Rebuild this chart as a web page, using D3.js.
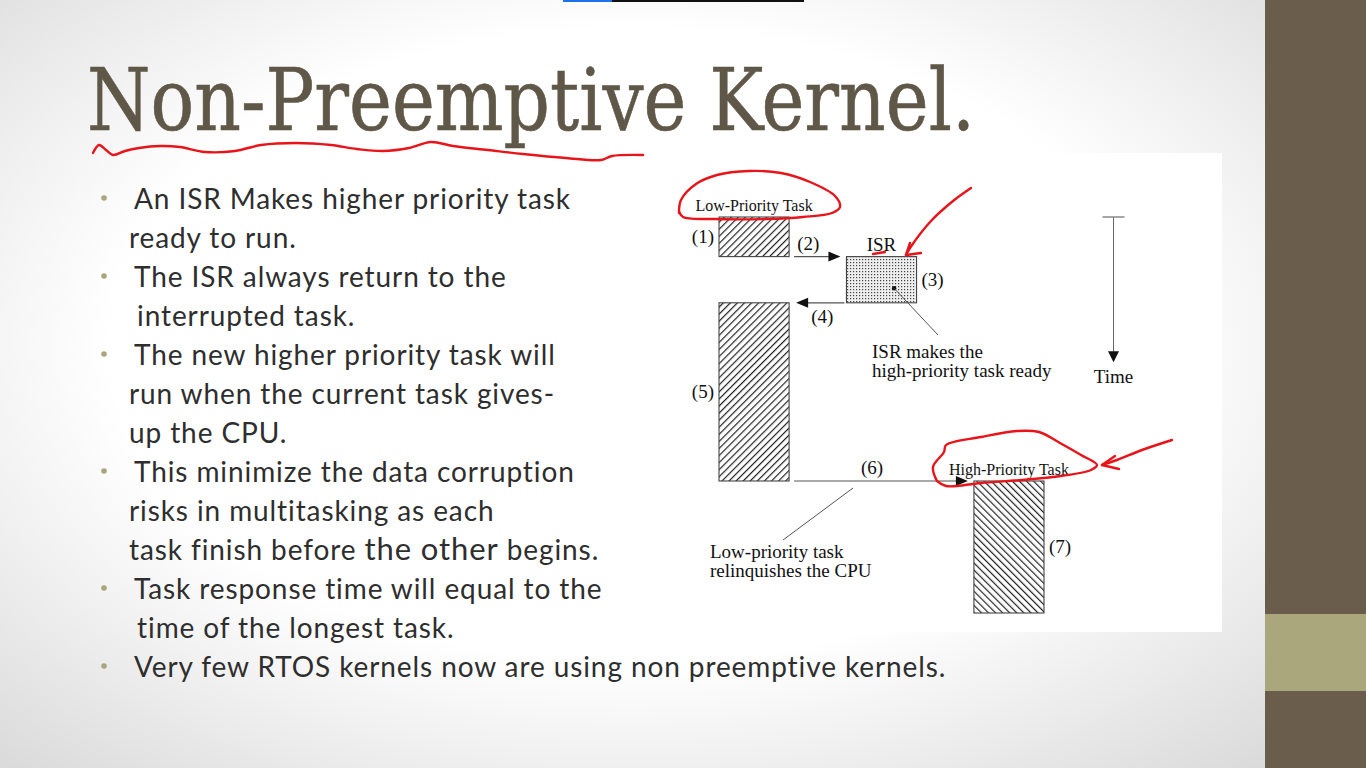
<!DOCTYPE html>
<html>
<head>
<meta charset="utf-8">
<script src="https://cdn.jsdelivr.net/npm/d3@7"></script>
<style>
  html, body { margin: 0; padding: 0; overflow: hidden; background: #fff; }
</style>
</head>
<body>
<svg id="slide" width="1366" height="768"></svg>
<script>
// timeline data (time in arbitrary ticks)
const lanes = ["Low-Priority Task", "ISR", "High-Priority Task"];
const segLane = ["Low-Priority Task", "ISR", "Low-Priority Task", "High-Priority Task"];
const segStart = [0, 3, 6.5, 20];
const segEnd = [3, 6.5, 20, 30];
const segTags = ["(1)", "(3)", "(5)", "(7)"];
const switchTags = ["(2)", "(4)", "(6)"];
const timeDomain = [0, 30];

const titleText = "Non-Preemptive Kernel.";
const bullets = [
    ["An ISR Makes higher priority task", "ready to run."],
    ["The ISR always return to the", " interrupted task."],
    ["The new higher priority task will", "run when the current task gives-", "up the CPU."],
    ["This minimize the data corruption", "risks in multitasking as each", "task finish before |the other| begins."],
    ["Task response time will equal to the", " time of the longest task."],
    ["Very few RTOS kernels now are using non preemptive kernels."]
];
const isrNote = ["ISR makes the", "high-priority task ready"];
const cpuNote = ["Low-priority task", "relinquishes the CPU"];
const timeLabel = "Time";

const svg = d3.select("#slide");
const defs = svg.append("defs");

// ---------- slide background ----------
const bg = defs.append("radialGradient").attr("id", "vignette")
    .attr("cx", "0.5").attr("cy", "0.45").attr("r", "0.75");
bg.append("stop").attr("offset", "0.55").attr("stop-color", "#ffffff");
bg.append("stop").attr("offset", "1").attr("stop-color", "#d9d9d9");

svg.append("rect").attr("x", 0).attr("y", 0).attr("width", 1265).attr("height", 768)
    .attr("fill", "url(#vignette)");

// right side bar
svg.append("rect").attr("x", 1265).attr("y", 0).attr("width", 101).attr("height", 768).attr("fill", "#6a5d4b");
svg.append("rect").attr("x", 1265).attr("y", 614).attr("width", 101).attr("height", 77).attr("fill", "#aba77c");

// video progress bar on top
svg.append("rect").attr("x", 563).attr("y", 0).attr("width", 241).attr("height", 2).attr("fill", "#111");
svg.append("rect").attr("x", 563).attr("y", 0).attr("width", 49).attr("height", 2).attr("fill", "#1a73e8");

// ---------- title ----------
svg.append("text")
    .attr("x", 87).attr("y", 130)
    .attr("textLength", 888).attr("lengthAdjust", "spacingAndGlyphs")
    .style("font-family", "'DejaVu Serif', 'Liberation Serif', serif")
    .style("font-stretch", "condensed")
    .style("font-size", "86px")
    .attr("fill", "#5f5747")
    .attr("stroke", "#5f5747")
    .attr("stroke-width", 0.6)
    .text(titleText);

// ---------- bullets ----------
const textG = svg.append("g")
    .style("font-family", "Lato, 'Open Sans', sans-serif")
    .style("font-size", "28px")
    .style("letter-spacing", "0.9px")
    .style("font-variant-ligatures", "none")
    .attr("fill", "#2e2e2e");

let lineNo = 0;
bullets.forEach(lines => {
    lines.forEach((ln, j) => {
        const base = 209 + lineNo * 39;
        if (j === 0) {
            textG.append("circle").attr("cx", 104).attr("cy", base - 11).attr("r", 2.8).attr("fill", "#a9a67b");
        }
        const t = textG.append("text")
            .attr("x", j === 0 ? 134 : 129)
            .attr("y", base)
            .attr("xml:space", "preserve")
            .style("white-space", "pre");
        ln.split("|").forEach((part, k) => {
            t.append("tspan").style("font-size", k === 1 ? "31px" : null).text(part);
        });
        lineNo++;
    });
});

// ---------- diagram ----------
svg.append("rect").attr("x", 655).attr("y", 153).attr("width", 567).attr("height", 479).attr("fill", "#fff");

const y = d3.scaleLinear().domain(timeDomain).range([217, 613]);
const x = d3.scaleBand().domain(lanes).range([719, 1044]).paddingInner(0.45);
const bw = x.bandwidth();

// fill patterns
const hatch = (id, angle) => {
    const p = defs.append("pattern").attr("id", id)
        .attr("patternUnits", "userSpaceOnUse").attr("width", 5).attr("height", 5)
        .attr("patternTransform", `rotate(${angle})`);
    p.append("rect").attr("width", 5).attr("height", 5).attr("fill", "#fff");
    p.append("line").attr("x1", 0.5).attr("y1", 0).attr("x2", 0.5).attr("y2", 5)
        .attr("stroke", "#222").attr("stroke-width", 1.4);
};
hatch("hatch-low", 45);
hatch("hatch-high", -45);
const dots = defs.append("pattern").attr("id", "dots")
    .attr("patternUnits", "userSpaceOnUse").attr("width", 3).attr("height", 3);
dots.append("rect").attr("width", 3).attr("height", 3).attr("fill", "#eeeeee");
dots.append("rect").attr("x", 1).attr("y", 1).attr("width", 1.2).attr("height", 1.2).attr("fill", "#444");

const laneFill = { "Low-Priority Task": "url(#hatch-low)", "ISR": "url(#dots)", "High-Priority Task": "url(#hatch-high)" };

const segments = segLane.map((lane, i) => ({ lane, start: segStart[i], end: segEnd[i], tag: segTags[i] }));

const diag = svg.append("g")
    .style("font-family", "'Liberation Serif', 'Times New Roman', serif")
    .attr("fill", "#111");

diag.selectAll("rect.seg")
    .data(segments)
    .enter()
    .append("rect")
    .attr("class", "seg")
    .attr("x", d => x(d.lane))
    .attr("y", d => y(d.start))
    .attr("width", bw)
    .attr("height", d => y(d.end) - y(d.start))
    .attr("fill", d => laneFill[d.lane])
    .attr("stroke", "#444")
    .attr("stroke-width", 1.1);

// segment numbers
diag.selectAll("text.tag")
    .data(segments)
    .enter()
    .append("text")
    .attr("class", "tag")
    .attr("x", d => d.lane === lanes[0] ? x(d.lane) - 5 : x(d.lane) + bw + 5)
    .attr("y", d => (y(d.start) + y(d.end)) / 2 + 6)
    .attr("text-anchor", d => d.lane === lanes[0] ? "end" : "start")
    .style("font-size", "19px")
    .text(d => d.tag);

// lane titles above the first segment of each lane
lanes.forEach(lane => {
    const first = segments.find(s => s.lane === lane);
    diag.append("text")
        .attr("x", x(lane) + bw / 2)
        .attr("y", y(first.start) - 6)
        .attr("text-anchor", "middle")
        .style("font-size", lane === "ISR" ? "19px" : "16px")
        .text(lane);
});

// context switch arrows
const switches = switchTags.map((tag, i) => ({
    tag, t: segEnd[i], from: segments[i].lane, to: segments[i + 1].lane
}));
switches.forEach(s => {
    const right = x(s.to) > x(s.from);
    const x1 = right ? x(s.from) + bw + 5 : x(s.from) - 2;
    const x2 = right ? x(s.to) - 6 : x(s.to) + bw + 7;
    const yy = y(s.t);
    const dir = right ? 1 : -1;
    diag.append("line")
        .attr("x1", x1).attr("y1", yy).attr("x2", x2 - dir * 10).attr("y2", yy)
        .attr("stroke", "#555").attr("stroke-width", 1.2);
    diag.append("path")
        .attr("d", `M${x2},${yy} L${x2 - dir * 12},${yy - 5} L${x2 - dir * 12},${yy + 5} Z`)
        .attr("fill", "#111");
    diag.append("text")
        .attr("x", (x1 + x2) / 2 - (right ? 9 : -2))
        .attr("y", right ? yy - 7 : yy + 20)
        .attr("text-anchor", "middle")
        .style("font-size", "19px")
        .text(s.tag);
});

// time axis
const tx = 1113.5;
const tEnd = 11;
diag.append("line").attr("x1", tx).attr("y1", y(0)).attr("x2", tx).attr("y2", y(tEnd) - 8)
    .attr("stroke", "#666").attr("stroke-width", 1);
diag.append("line").attr("x1", tx - 11).attr("y1", y(0)).attr("x2", tx + 11).attr("y2", y(0))
    .attr("stroke", "#888").attr("stroke-width", 1.5);
diag.append("path")
    .attr("d", `M${tx},${y(tEnd)} L${tx - 5.5},${y(tEnd) - 11} L${tx + 5.5},${y(tEnd) - 11} Z`)
    .attr("fill", "#111");
diag.append("text").attr("x", tx).attr("y", y(tEnd) + 21).attr("text-anchor", "middle")
    .style("font-size", "19px").text(timeLabel);

// ISR note with leader
const isrDot = [x("ISR") + bw * 0.68, y(5.4)];
diag.append("circle").attr("cx", isrDot[0]).attr("cy", isrDot[1]).attr("r", 2.2).attr("fill", "#111");
diag.append("line").attr("x1", isrDot[0]).attr("y1", isrDot[1]).attr("x2", 938).attr("y2", 335)
    .attr("stroke", "#555").attr("stroke-width", 1);
isrNote.forEach((ln, i) => {
    diag.append("text").attr("x", 872).attr("y", 358 + i * 19).style("font-size", "19px").text(ln);
});

// CPU relinquish note with leader
diag.append("line").attr("x1", 853).attr("y1", y(segEnd[2]) + 7).attr("x2", 783).attr("y2", 540)
    .attr("stroke", "#555").attr("stroke-width", 1);
cpuNote.forEach((ln, i) => {
    diag.append("text").attr("x", 710).attr("y", 558 + i * 19).style("font-size", "19px").text(ln);
});

// ---------- red pen scribbles ----------
const pen = d3.line().curve(d3.curveCatmullRom);
const ink = svg.append("g").attr("fill", "none").attr("stroke", "#e8141a")
    .attr("stroke-width", 2.4).attr("stroke-linecap", "round").attr("stroke-linejoin", "round");

ink.append("path").attr("d", pen([
    [93, 153], [99, 145], [106, 150], [113, 155], [125, 151], [139, 148], [160, 146], [180, 147],
    [205, 152], [235, 151], [261, 145], [296, 143], [331, 145], [357, 149], [383, 151], [409, 148],
    [431, 142], [453, 146], [488, 150], [523, 154], [566, 158], [601, 160], [612, 156], [643, 155]
]));
ink.append("path").attr("d", pen([
    [679, 213], [681, 200], [696, 184], [717, 175], [749, 171], [781, 173], [810, 182], [835, 196],
    [840, 207], [832, 213], [803, 217], [767, 219], [714, 219], [683, 217], [679, 211]
]));
ink.append("path").attr("d", pen([[971, 188], [953, 201], [931, 221], [910, 248], [906, 255]]));
ink.append("path").attr("d", "M906,255 L921,253 M906,255 L910,243");
ink.append("path").attr("d", "M873,254 L885,252");
ink.append("path").attr("d", pen([
    [937, 481], [933, 467], [944, 452], [946, 445], [981, 437], [1017, 431], [1039, 432], [1060, 443],
    [1081, 455], [1097, 465], [1091, 470], [1053, 477], [981, 483], [946, 486], [937, 481]
]));
ink.append("path").attr("d", pen([[1172, 440], [1142, 450], [1117, 460], [1102, 465]]));
ink.append("path").attr("d", "M1102,465 L1115,456 M1102,465 L1119,469");
</script>
</body>
</html>
